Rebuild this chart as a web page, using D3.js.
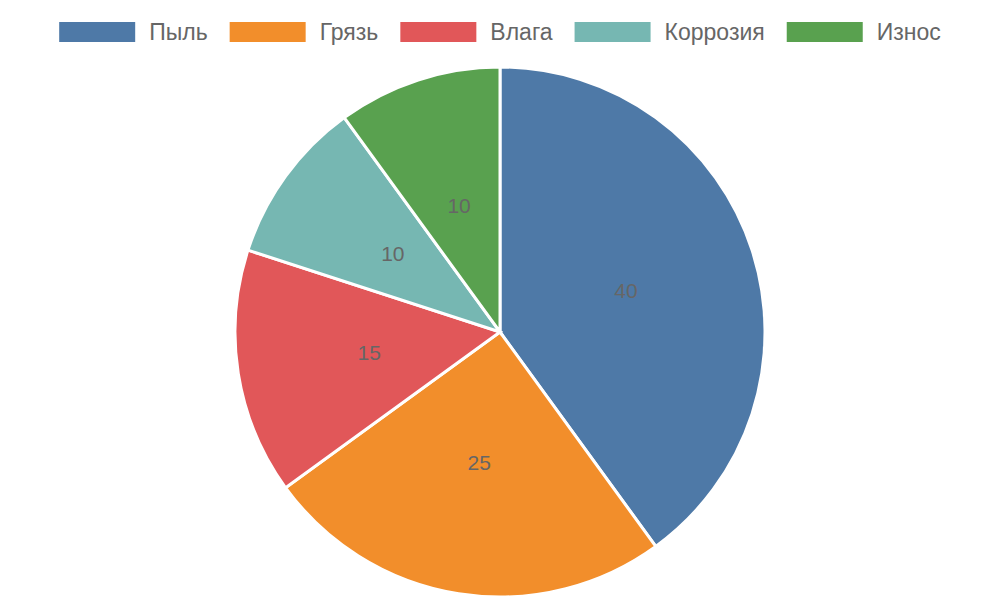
<!DOCTYPE html>
<html><head><meta charset="utf-8">
<script src="https://cdn.jsdelivr.net/npm/d3@7"></script>
<style>body{margin:0;background:#fff}</style>
</head><body>
<svg id="chart" width="1000" height="600"></svg>
<script>
const categories = ["Пыль", "Грязь", "Влага", "Коррозия", "Износ"];
const values = [40, 25, 15, 10, 10];
const colors = ["#4e79a7", "#f28e2b", "#e15759", "#76b7b2", "#59a14f"];

const svg = d3.select("#chart");
const font = "Liberation Sans, Arial, sans-serif";

// legend
const legend = svg.append("g");
let x = 0;
categories.forEach(function(c, i) {
  const g = legend.append("g").attr("transform", "translate(" + x + ",0)");
  g.append("rect").attr("x", 0).attr("y", 22).attr("width", 76).attr("height", 20).attr("fill", colors[i]);
  const t = g.append("text").attr("x", 90).attr("y", 40).text(c)
    .attr("font-family", font).attr("font-size", 23).attr("fill", "#666");
  x += 90 + t.node().getComputedTextLength() + 22;
});
const lw = x - 22;
legend.attr("transform", "translate(" + (1000 - lw) / 2 + ",0)");

// pie
const cx = 500, cy = 332, radius = 265;
const chart = svg.append("g").attr("transform", "translate(" + cx + "," + cy + ")");
const pie = d3.pie().sort(null).value(function(d) { return d; });
const arc = d3.arc().innerRadius(0).outerRadius(radius);
const arcs = pie(values);

chart.selectAll("path").data(arcs).enter().append("path")
  .attr("d", arc)
  .attr("fill", function(d, i) { return colors[i]; })
  .attr("stroke", "#fff").attr("stroke-width", 3);

const labelArc = d3.arc().innerRadius(radius / 2).outerRadius(radius / 2);
chart.selectAll("text").data(arcs).enter().append("text")
  .attr("transform", function(d) { return "translate(" + labelArc.centroid(d) + ")"; })
  .attr("text-anchor", "middle").attr("dy", "0.35em")
  .attr("font-family", font).attr("font-size", 21).attr("fill", "#666")
  .text(function(d) { return d.data; });
</script>
</body></html>
